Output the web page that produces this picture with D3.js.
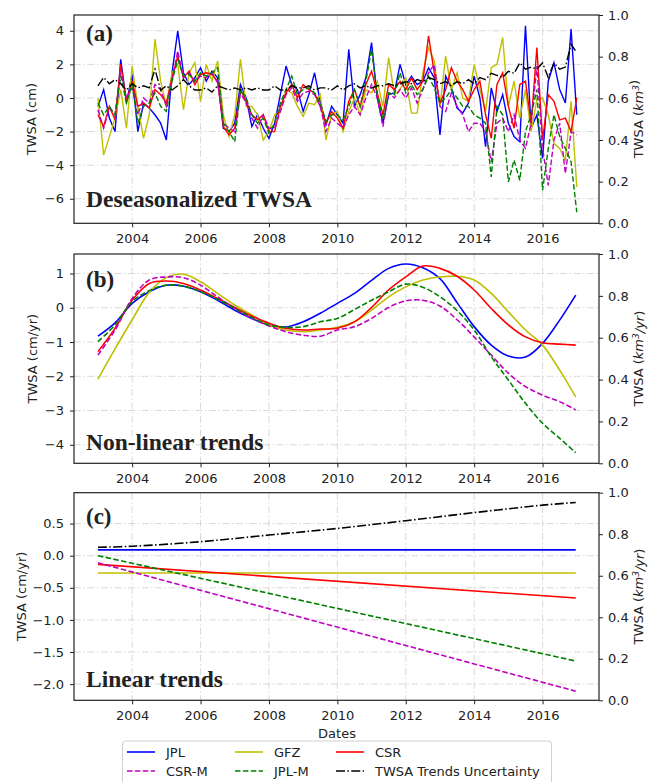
<!DOCTYPE html>
<html>
<head>
<meta charset="utf-8">
<script src="https://cdn.jsdelivr.net/npm/d3@7"></script>
<style>
  body { margin: 0; background: #fff; }
  svg text { font-family: "DejaVu Sans", sans-serif; fill: #222; }
</style>
</head>
<body>
<script>
// ---- panel (a): deseasonalized TWSA, 2-monthly, 2003.0 - 2017.0
const datesA = d3.range(85).map(i => 2003 + i / 6);

const jplA = [
  -0.5, 0.5, -1.2, -2.0, 2.3, -0.3,
  1.4, -2.0, -0.3, -0.6, -1.0, -1.5,
  -2.5, 1.5, 4.0, 1.5, 0.8, 1.2,
  1.8, 1.0, 1.6, 1.2, -1.8, -2.0,
  -1.5, 0.8, 0.0, -1.7, -1.0, -1.8,
  -2.4, -1.5, 0.2, 1.9, 0.8, 0.5,
  -0.8, 0.2, 1.5, -0.2, -1.6, -0.5,
  -1.0, -1.5, 2.9, -0.5, 0.2, 1.2,
  3.3, 0.0, -1.5, 0.2, 0.3, 2.0,
  0.8, 1.3, 0.8, 1.0, 1.8, 1.2,
  -2.2, 1.3, 0.6, -0.6, -0.9, -0.3,
  1.3, 0.0, -2.9, 0.6, -0.8, 0.2,
  -1.5, -2.3, -2.6, 4.3, -1.8, -1.0,
  -3.6, 1.0, 2.1, 0.5, -0.3, 4.1,
  -1.0];
const gfzA = [
  0.0, -3.4, -2.3, -1.2, 0.5, -1.8,
  1.9, -0.5, -2.4, -1.0, 3.5, 1.0,
  -0.5, 1.5, 2.0, -0.7, 1.5, 2.1,
  -0.2, 2.0, 1.0, 2.2, -1.0, -2.3,
  -1.0, 2.3, -0.5, -0.5, -1.0, -2.5,
  -2.0, -1.0, -0.8, 0.5, 0.3, -0.5,
  -1.1, -0.3, -0.4, 0.2, -2.5, -1.0,
  -0.8, -2.0, -0.8, 0.0, -1.0, 0.5,
  0.3, 1.0, -0.5, 2.4, 0.2, 0.5,
  1.2, -0.9, -0.9, 1.5, 3.0, 2.2,
  -0.5, 2.5, 0.5, 1.5, 0.0, -0.2,
  2.0, 0.5, -0.8, 1.8, 2.0, 3.6,
  -0.5, 1.0, -1.2, 0.5, -2.0, -0.1,
  0.0, -1.0, -2.7, -3.0, -3.7, -0.2,
  -5.3];
const csrA = [
  -1.0, -1.7, -0.5, -1.3, 2.0, -0.2,
  1.0, -0.5, -0.3, -0.6, 0.5, 0.2,
  -0.3, 1.2, 2.5, 1.2, 1.6, 0.8,
  1.4, 1.5, 1.4, 1.0, -1.7, -2.2,
  -1.8, 0.5, -0.2, -1.0, -1.3, -1.0,
  -2.0, -2.0, -0.5, 0.3, 0.8, 0.0,
  0.8, 0.5, 0.3, -0.5, -1.5, -0.8,
  -1.2, -1.8, -0.2, 0.5, -0.5, 0.8,
  1.6, 0.3, -1.0, 0.8, 0.5, 1.0,
  0.5, 1.2, 0.5, 1.0, 3.7, 1.5,
  -0.3, 0.5, 1.8, 1.0, 0.5, -0.2,
  0.5, 1.0, -1.0, -2.4, 0.8, 1.5,
  -0.5, -1.8, 0.8, 1.0, -1.5, 3.0,
  -2.5, 0.2, -0.2, -1.3, -1.2, -2.0,
  0.0];
const csrmA = [
  -0.7, -1.8, -0.6, -1.0, 1.5, 0.0,
  0.6, -1.0, 0.0, -0.3, 0.8, 0.5,
  -0.5, 1.0, 2.8, 1.2, 1.5, 1.0,
  1.3, 1.2, 1.5, 0.9, -1.5, -1.8,
  -2.0, 0.3, -0.3, -1.2, -1.8, -1.0,
  -1.8, -1.8, -0.8, 0.2, 0.6, -0.2,
  0.3, 0.4, 0.2, -0.5, -2.0, -1.2,
  -1.5, -1.8, -1.0, -0.5, -1.0, 0.0,
  0.8, 0.0, -1.7, 0.3, 0.0, 0.5,
  0.0, 0.6, -0.3, 0.5, 1.5, 2.0,
  -0.5, -0.8, 0.3, -0.5, -1.0, -2.0,
  -1.5, -1.5, -2.0, -3.8, -1.5, -1.2,
  -2.0, -1.0, -2.5, -3.0, -1.5, 1.9,
  -3.0, -5.2, -2.5, -1.5, -4.5, -2.0,
  -2.2];
const jplmA = [
  -0.3, -1.0, -0.5, -1.0, 1.3, -0.3,
  0.8, -1.5, -0.5, -0.3, 0.3, -0.5,
  -0.8, 1.0, 2.3, 1.3, 1.4, 1.0,
  1.5, 1.3, 1.5, 1.8, -1.5, -2.0,
  -2.6, 0.5, 0.0, -1.0, -1.5, -1.2,
  -2.1, -1.5, -0.3, 0.5, 1.3, 0.2,
  0.5, 0.6, 0.3, -0.3, -1.4, -1.0,
  -1.0, -1.3, -0.5, 0.5, -0.5, 1.0,
  2.9, 0.2, -1.3, 0.3, 0.2, 1.5,
  0.3, 0.8, 0.2, 0.5, 1.3, 0.6,
  -0.3, 0.0, 0.5, 0.0, -0.5, -0.5,
  -1.0, -1.2, -1.5, -4.7, -0.5, -1.0,
  -5.0, -3.7, -4.9, -2.0, -1.0, 0.5,
  -5.5, -3.0, -1.0, -2.3, -3.0, -3.8,
  -6.8];
// uncertainty, right axis (km3)
const uncA = [
  0.66, 0.70, 0.67, 0.69, 0.67, 0.64,
  0.67, 0.65, 0.66, 0.65, 0.74, 0.64,
  0.66, 0.64, 0.66, 0.69, 0.66, 0.64,
  0.64, 0.65, 0.63, 0.66, 0.65, 0.64,
  0.65, 0.64, 0.65, 0.64, 0.65, 0.64,
  0.64, 0.66, 0.64, 0.64, 0.66, 0.65,
  0.65, 0.66, 0.64, 0.65, 0.65, 0.64,
  0.66, 0.64, 0.66, 0.67, 0.65, 0.66,
  0.65, 0.66, 0.66, 0.67, 0.66, 0.67,
  0.68, 0.67, 0.69, 0.68, 0.70, 0.69,
  0.67, 0.68, 0.66, 0.68, 0.67, 0.69,
  0.67, 0.70, 0.69, 0.72, 0.71, 0.70,
  0.73, 0.72, 0.77, 0.74, 0.75, 0.74,
  0.77, 0.70, 0.77, 0.74, 0.75, 0.86,
  0.82];

// ---- panel (b): non-linear trends, half-yearly
const datesB = [2003, 2003.5, 2004, 2004.5, 2005, 2005.5, 2006, 2006.5, 2007, 2007.5,
  2008, 2008.5, 2009, 2009.5, 2010, 2010.5, 2011, 2011.5, 2012, 2012.5,
  2013, 2013.5, 2014, 2014.5, 2015, 2015.5, 2016, 2016.5, 2016.97];
const jplB  = [-0.83, -0.44, 0.13, 0.47, 0.66, 0.63, 0.47, 0.22, -0.07, -0.31, -0.50, -0.56, -0.41, -0.16, 0.13, 0.42, 0.80, 1.15, 1.28, 1.17, 0.85, 0.15, -0.55, -1.09, -1.41, -1.44, -1.04, -0.36, 0.37];
const gfzB  = [-2.08, -1.20, -0.35, 0.45, 0.88, 0.98, 0.76, 0.42, 0.08, -0.21, -0.50, -0.65, -0.70, -0.65, -0.57, -0.41, -0.07, 0.32, 0.61, 0.81, 0.90, 0.92, 0.81, 0.42, -0.12, -0.65, -1.09, -1.82, -2.60];
const csrB  = [-1.28, -0.60, 0.22, 0.71, 0.78, 0.71, 0.52, 0.27, 0.01, -0.24, -0.45, -0.60, -0.65, -0.62, -0.60, -0.41, 0.01, 0.52, 0.90, 1.22, 1.15, 0.92, 0.52, -0.02, -0.50, -0.85, -1.02, -1.06, -1.09];
const csrmB = [-1.38, -0.65, 0.27, 0.81, 0.90, 0.88, 0.66, 0.32, -0.02, -0.31, -0.53, -0.70, -0.80, -0.83, -0.65, -0.55, -0.31, 0.01, 0.20, 0.22, 0.05, -0.35, -0.85, -1.38, -1.91, -2.30, -2.55, -2.74, -2.98];
const jplmB = [-0.99, -0.50, 0.18, 0.50, 0.66, 0.63, 0.47, 0.25, -0.02, -0.28, -0.50, -0.57, -0.55, -0.41, -0.31, -0.05, 0.22, 0.47, 0.69, 0.60, 0.32, -0.08, -0.65, -1.43, -2.11, -2.79, -3.37, -3.81, -4.23];

// ---- panel (c): linear trends
const datesC = [2003, 2016.97];
const jplC  = [0.09, 0.09];
const gfzC  = [-0.27, -0.27];
const csrC  = [-0.135, -0.66];
const csrmC = [-0.11, -2.11];
const jplmC = [0.0, -1.64];
const uncDatesC = [2003, 2004, 2006, 2008, 2010, 2012, 2014, 2016, 2016.97];
const uncC = [0.737, 0.742, 0.764, 0.796, 0.828, 0.865, 0.904, 0.94, 0.953];

const xTicks = [2004, 2006, 2008, 2010, 2012, 2014, 2016];
const rightTicks = [0, 0.2, 0.4, 0.6, 0.8, 1.0];

const W = 649, H = 782;
const X0 = 74, X1 = 599;

const styles = {
  JPL:   { color: "#0000ff", dash: null },
  GFZ:   { color: "#bfbf00", dash: null },
  CSR:   { color: "#ff0000", dash: null },
  "CSR-M": { color: "#bf00bf", dash: "5.5,2.4" },
  "JPL-M": { color: "#008000", dash: "5.5,2.4" },
  UNC:   { color: "#000000", dash: "9,2.4,1.5,2.4" }
};

const svg = d3.select("body").append("svg")
  .attr("width", W).attr("height", H);

const x = d3.scaleLinear().domain([2002.3, 2017.65]).range([X0, X1]);

function panel(cfg) {
  const y = d3.scaleLinear().domain(cfg.domain).range([cfg.bottom, cfg.top]);
  const yr = d3.scaleLinear().domain([0, 1]).range([cfg.bottom, cfg.top]);
  const g = svg.append("g");

  // grid
  const grid = g.append("g").attr("stroke", "#cfcfcf").attr("stroke-width", 0.8)
    .attr("stroke-dasharray", "7,2.5,1.5,2.5");
  grid.selectAll(".gx").data(xTicks).enter().append("line")
    .attr("x1", d => x(d)).attr("x2", d => x(d))
    .attr("y1", cfg.top).attr("y2", cfg.bottom);
  grid.selectAll(".gy").data(cfg.ticks).enter().append("line")
    .attr("x1", X0).attr("x2", X1)
    .attr("y1", d => y(d)).attr("y2", d => y(d));

  // series
  const line = d3.line().curve(cfg.curve || d3.curveLinear);
  cfg.series.forEach(s => {
    const sc = s.right ? yr : y;
    const pts = s.dates.map((t, i) => [x(t), sc(s.values[i])]);
    g.append("path")
      .attr("d", line(pts))
      .attr("fill", "none")
      .attr("stroke", styles[s.key].color)
      .attr("stroke-width", cfg.lw)
      .attr("stroke-dasharray", styles[s.key].dash);
  });

  // axes
  const ax = g.append("g").attr("transform", `translate(0,${cfg.bottom})`)
    .call(d3.axisBottom(x).tickValues(xTicks).tickFormat(d3.format("d"))
      .tickSizeInner(4).tickSizeOuter(0).tickPadding(6));
  const ay = g.append("g").attr("transform", `translate(${X0},0)`)
    .call(d3.axisLeft(y).tickValues(cfg.ticks).tickFormat(d3.format(cfg.fmt))
      .tickSizeInner(4).tickSizeOuter(0).tickPadding(6));
  const ar = g.append("g").attr("transform", `translate(${X1},0)`)
    .call(d3.axisRight(yr).tickValues(rightTicks).tickFormat(d3.format(".1f"))
      .tickSizeInner(4).tickSizeOuter(0).tickPadding(5));
  [ax, ay, ar].forEach(a => {
    a.select(".domain").remove();
    a.selectAll("line").attr("stroke", "#222").attr("stroke-width", 1);
    a.selectAll("text").attr("font-size", 13).attr("font-family", "DejaVu Sans").attr("fill", "#222");
  });

  // frame
  g.append("rect").attr("x", X0).attr("y", cfg.top)
    .attr("width", X1 - X0).attr("height", cfg.bottom - cfg.top)
    .attr("fill", "none").attr("stroke", "#222").attr("stroke-width", 1.2);

  // axis labels
  const cy = (cfg.top + cfg.bottom) / 2;
  g.append("text")
    .attr("transform", `translate(${cfg.ylabX},${cy}) rotate(-90)`)
    .attr("text-anchor", "middle").attr("dy", "0.35em")
    .attr("font-size", 13).text(cfg.ylab);
  const rl = g.append("text")
    .attr("transform", `translate(638,${cy}) rotate(-90)`)
    .attr("text-anchor", "middle").attr("dy", "0.35em")
    .attr("font-size", 13);
  rl.append("tspan").text("TWSA (");
  rl.append("tspan").attr("font-style", "italic").text("km");
  rl.append("tspan").attr("font-style", "italic").attr("font-size", 9).attr("dy", "-0.45em").text("3");
  rl.append("tspan").attr("font-style", "italic").attr("dy", "0.45em").text(cfg.runit);
  rl.append("tspan").text(")");

  // panel tags
  g.append("text").attr("x", 86).attr("y", cfg.tagY)
    .attr("font-weight", "bold").attr("font-size", 23)
    .style("font-family", "'Liberation Serif', serif")
    .text(cfg.tag);
  g.append("text").attr("x", 86).attr("y", cfg.nameY)
    .attr("font-weight", "bold").attr("font-size", 23.5)
    .style("font-family", "'Liberation Serif', serif")
    .text(cfg.name);
}

panel({
  top: 15, bottom: 223.3, domain: [-7.46, 4.94],
  ticks: [-6, -4, -2, 0, 2, 4], fmt: "d",
  ylab: "TWSA (cm)", ylabX: 31.5, runit: "",
  tag: "(a)", tagY: 41, name: "Deseasonalized TWSA", nameY: 207, lw: 1.4,
  series: [
    { key: "JPL", dates: datesA, values: jplA },
    { key: "GFZ", dates: datesA, values: gfzA },
    { key: "CSR", dates: datesA, values: csrA },
    { key: "CSR-M", dates: datesA, values: csrmA },
    { key: "JPL-M", dates: datesA, values: jplmA },
    { key: "UNC", dates: datesA, values: uncA, right: true }
  ]
});

panel({
  top: 254, bottom: 463.3, domain: [-4.54, 1.57],
  ticks: [-4, -3, -2, -1, 0, 1], fmt: "d",
  ylab: "TWSA (cm/yr)", ylabX: 32.5, runit: "/yr",
  tag: "(b)", tagY: 286.7, name: "Non-linear trends", nameY: 450, lw: 1.6,
  curve: d3.curveCatmullRom,
  series: [
    { key: "JPL", dates: datesB, values: jplB },
    { key: "GFZ", dates: datesB, values: gfzB },
    { key: "CSR", dates: datesB, values: csrB },
    { key: "CSR-M", dates: datesB, values: csrmB },
    { key: "JPL-M", dates: datesB, values: jplmB }
  ]
});

panel({
  top: 492.7, bottom: 700.3, domain: [-2.252, 0.981],
  ticks: [-2, -1.5, -1, -0.5, 0, 0.5], fmt: ".1f",
  ylab: "TWSA (cm/yr)", ylabX: 21, runit: "/yr",
  tag: "(c)", tagY: 524.3, name: "Linear trends", nameY: 686.7, lw: 1.6,
  curve: d3.curveCatmullRom,
  series: [
    { key: "JPL", dates: datesC, values: jplC },
    { key: "GFZ", dates: datesC, values: gfzC },
    { key: "CSR", dates: datesC, values: csrC },
    { key: "CSR-M", dates: datesC, values: csrmC },
    { key: "JPL-M", dates: datesC, values: jplmC },
    { key: "UNC", dates: uncDatesC, values: uncC, right: true }
  ]
});

svg.append("text").attr("x", 337).attr("y", 738)
  .attr("text-anchor", "middle").attr("font-size", 13).text("Dates");

// legend
const legendItems = [
  { key: "JPL", label: "JPL", col: 0, row: 0 },
  { key: "GFZ", label: "GFZ", col: 1, row: 0 },
  { key: "CSR", label: "CSR", col: 2, row: 0 },
  { key: "CSR-M", label: "CSR-M", col: 0, row: 1 },
  { key: "JPL-M", label: "JPL-M", col: 1, row: 1 },
  { key: "UNC", label: "TWSA Trends Uncertainty", col: 2, row: 1 }
];
const colX = [127, 235, 336];
const rowY = [752, 771];
const legend = svg.append("g");
legend.append("rect").attr("x", 122.5).attr("y", 741).attr("width", 429).attr("height", 60)
  .attr("rx", 3).attr("fill", "#fff").attr("stroke", "#d0d0d0").attr("stroke-width", 1);
legendItems.forEach(it => {
  legend.append("line")
    .attr("x1", colX[it.col]).attr("x2", colX[it.col] + 28)
    .attr("y1", rowY[it.row]).attr("y2", rowY[it.row])
    .attr("stroke", styles[it.key].color).attr("stroke-width", 1.6)
    .attr("stroke-dasharray", styles[it.key].dash);
  legend.append("text")
    .attr("x", colX[it.col] + 39).attr("y", rowY[it.row]).attr("dy", "0.35em")
    .attr("font-size", 13).text(it.label);
});
</script>
</body>
</html>
